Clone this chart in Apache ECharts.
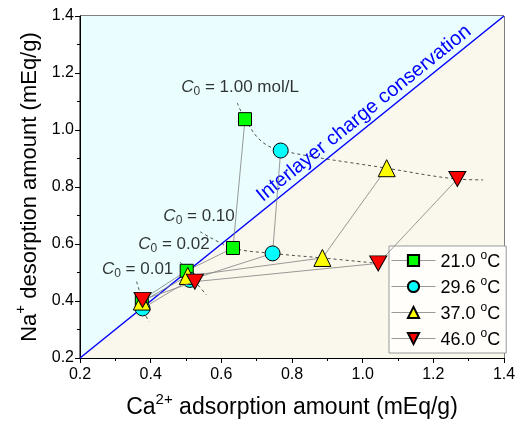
<!DOCTYPE html>
<html>
<head>
<meta charset="utf-8">
<script src="https://cdn.jsdelivr.net/npm/echarts@6/dist/echarts.min.js"></script>
<style>
  html, body { margin: 0; padding: 0; background: #fff; }
  #chart { width: 522px; height: 430px; }
</style>
</head>
<body>
<div id="chart"></div>
<script>
// series: points ordered C0 = 1.00, 0.10, 0.02, 0.01
var seriesNames = ['21.0', '29.6', '37.0', '46.0']
var t21 = [[0.667, 1.038], [0.633, 0.586], [0.502, 0.506], [0.375, 0.404]]
var t296 = [[0.768, 0.928], [0.745, 0.567], [0.511, 0.474], [0.377, 0.374]]
var t37 = [[1.068, 0.866], [0.886, 0.551], [0.505, 0.488], [0.375, 0.398]]
var t46 = [[1.268, 0.828], [1.044, 0.532], [0.525, 0.468], [0.377, 0.404]]

// dashed guides through the same C0
var guide100 = [[0.645, 1.095], [0.667, 1.038], [0.712, 0.962], [0.768, 0.928], [1.068, 0.866], [1.268, 0.828], [1.341, 0.825]]
var guide010 = [[0.540, 0.643], [0.633, 0.586], [0.745, 0.567], [0.886, 0.551], [1.044, 0.532]]
var guide002 = [[0.483, 0.537], [0.502, 0.506], [0.505, 0.488], [0.525, 0.468], [0.558, 0.421]]
var guide001 = [[0.360, 0.468], [0.375, 0.404], [0.377, 0.374], [0.396, 0.327]]

var annots = [
  [0.653, 1.147, '1.00 mol/L'],
  [0.537, 0.695, '0.10'],
  [0.466, 0.596, '0.02'],
  [0.363, 0.509, '0.01']
]

var diag = [[0.2, 0.2], [1.4, 1.4]]

var chart = echarts.init(document.getElementById('chart'))

var font = 'Liberation Sans, Arial, sans-serif'
var symbols = ['rect', 'circle', 'triangle', 'path://M0,0 L10,0 L5,8.66 Z']
var colors = ['#00ff00', '#00ffff', '#ffff00', '#ff0000']
var sizes = [13, 15, 17, 17]
var datas = [t21, t296, t37, t46]

var series = []

// background triangles
series.push({
  type: 'custom',
  silent: true,
  z: 0,
  data: [0],
  renderItem: function(params, api) {
    var a = api.coord([0.2, 0.2])
    var b = api.coord([0.2, 1.4])
    var c = api.coord([1.4, 1.4])
    var d = api.coord([1.4, 0.2])
    return {
      type: 'group',
      children: [
        { type: 'polygon', shape: { points: [a, b, c] }, style: { fill: '#eafdff' } },
        { type: 'polygon', shape: { points: [a, c, d] }, style: { fill: '#faf7ec' } }
      ]
    }
  }
})

// diagonal
series.push({
  type: 'line',
  data: diag,
  symbol: 'none',
  silent: true,
  z: 1,
  lineStyle: { color: '#0000ff', width: 1.5 }
})

// text along the diagonal
series.push({
  type: 'custom',
  silent: true,
  z: 2,
  data: [0],
  renderItem: function(params, api) {
    var p0 = api.coord([0.2, 0.2])
    var p1 = api.coord([1.4, 1.4])
    var ang = Math.atan2(p0[1] - p1[1], p1[0] - p0[0])
    var m = api.coord([1.025, 1.025])
    var off = 2
    return {
      type: 'text',
      x: m[0] - off * Math.sin(ang),
      y: m[1] - off * Math.cos(ang),
      rotation: ang,
      style: {
        text: 'Interlayer charge conservation',
        fill: '#0000ff',
        font: '20px ' + font,
        align: 'center',
        verticalAlign: 'bottom'
      }
    }
  }
})

// dashed guides
;[guide100, guide010, guide002, guide001].forEach(function(g) {
  series.push({
    type: 'line',
    data: g,
    symbol: 'none',
    smooth: 0.35,
    silent: true,
    z: 3,
    lineStyle: { color: '#222', width: 0.8, type: [3, 3] }
  })
})

// data series
for (var i = 0; i < 4; i++) {
  series.push({
    name: seriesNames[i],
    type: 'line',
    data: datas[i],
    symbol: symbols[i],
    symbolSize: i === 3 ? [17, 15] : sizes[i],
    z: 5 + i,
    lineStyle: { color: '#808080', width: 0.8 },
    itemStyle: { color: colors[i], borderColor: '#000', borderWidth: 1, opacity: 1 }
  })
}

// C0 labels
series.push({
  type: 'scatter',
  data: annots.map(function(a) { return [a[0], a[1], a[2]] }),
  symbolSize: 0,
  silent: true,
  z: 10,
  label: {
    show: true,
    position: 'inside',
    formatter: function(p) { return '{i|C}{sub|0}{n| = ' + p.data[2] + '}' },
    rich: {
      i: { fontStyle: 'italic', fontSize: 17, fontFamily: font, color: '#000', verticalAlign: 'top' },
      sub: { fontSize: 12, fontFamily: font, color: '#000', verticalAlign: 'bottom', padding: [7, 0, 0, 0] },
      n: { fontSize: 17, fontFamily: font, color: '#000', verticalAlign: 'top' }
    }
  }
})

var option = {
  animation: false,
  backgroundColor: '#fff',
  grid: {
    left: 80, right: 18, top: 16, bottom: 72,
    show: true, borderColor: '#000', borderWidth: 1, backgroundColor: 'transparent'
  },
  legend: {
    orient: 'vertical',
    left: 389,
    top: 246,
    itemWidth: 44,
    itemHeight: 14,
    itemGap: 5,
    padding: [4, 6, 4, 2],
    backgroundColor: '#fffefb',
    borderColor: '#999',
    borderWidth: 1,
    lineStyle: { width: 1, color: '#999' },
    data: seriesNames,
    formatter: function(name) { return '{m|' + name + ' }{sup|o}{m|C}' },
    textStyle: {
      fontSize: 18,
      fontFamily: font,
      color: '#000',
      rich: {
        m: { fontSize: 18, fontFamily: font, color: '#000', verticalAlign: 'bottom' },
        sup: { fontSize: 12, fontFamily: font, color: '#000', verticalAlign: 'top', padding: [0, 0, 9, 0] }
      }
    }
  },
  xAxis: {
    type: 'value',
    min: 0.2,
    max: 1.4,
    interval: 0.2,
    name: '{a|Ca}{s|2+}{a| adsorption amount (mEq/g)}',
    nameLocation: 'middle',
    nameGap: 34,
    nameTextStyle: {
      rich: {
        a: { fontSize: 23, fontFamily: font, color: '#000', verticalAlign: 'bottom' },
        s: { fontSize: 15, fontFamily: font, color: '#000', verticalAlign: 'top', padding: [0, 0, 12, 0] }
      }
    },
    axisLine: { show: true, lineStyle: { color: '#000', width: 1 } },
    axisTick: { show: true, length: 5, lineStyle: { color: '#000' } },
    minorTick: { show: true, splitNumber: 2, length: 3, lineStyle: { color: '#000' } },
    splitLine: { show: false },
    axisLabel: { fontSize: 16, fontFamily: font, color: '#000', margin: 9, formatter: function(v) { return v.toFixed(1) } }
  },
  yAxis: {
    type: 'value',
    min: 0.2,
    max: 1.4,
    interval: 0.2,
    name: '{a|Na}{s|+}{a| desorption amount (mEq/g)}',
    nameLocation: 'middle',
    nameGap: 39,
    nameRotate: 90,
    nameTextStyle: {
      rich: {
        a: { fontSize: 22, fontFamily: font, color: '#000', verticalAlign: 'bottom' },
        s: { fontSize: 15, fontFamily: font, color: '#000', verticalAlign: 'top', padding: [0, 0, 12, 0] }
      }
    },
    axisLine: { show: true, lineStyle: { color: '#000', width: 1 } },
    axisTick: { show: true, length: 5, lineStyle: { color: '#000' } },
    minorTick: { show: true, splitNumber: 2, length: 3, lineStyle: { color: '#000' } },
    splitLine: { show: false },
    axisLabel: { fontSize: 16, fontFamily: font, color: '#000', margin: 6, formatter: function(v) { return v.toFixed(1) } }
  },
  series: series
}

chart.setOption(option)
</script>
</body>
</html>
